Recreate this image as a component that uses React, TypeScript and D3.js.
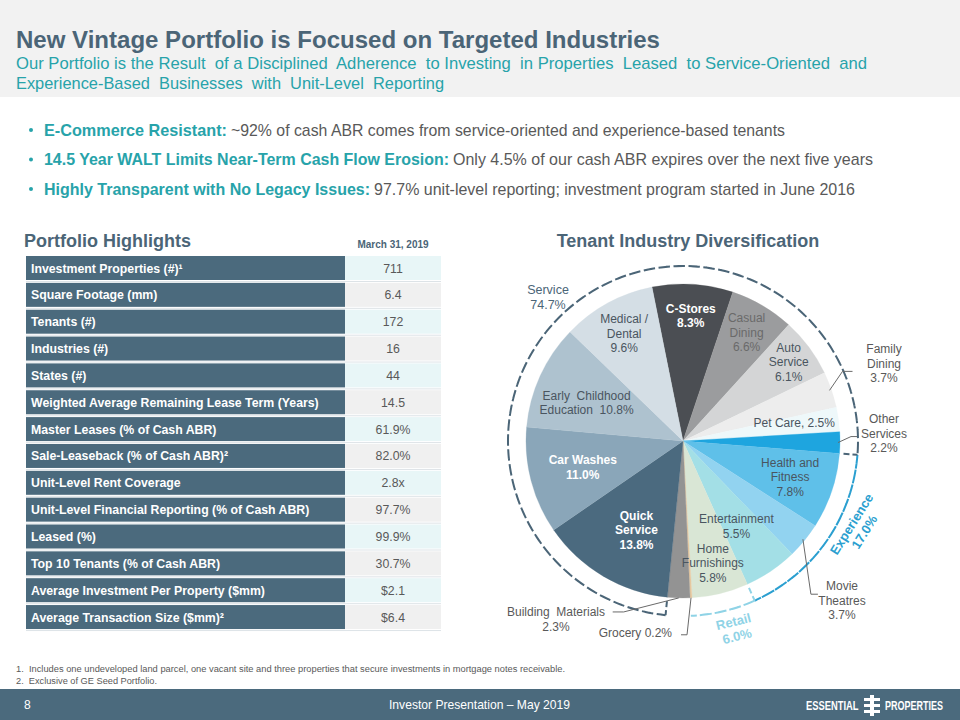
import React from "react";
import * as d3 from "d3";

// ---------- DATA ----------
const industries = [
  "C-Stores", "Casual Dining", "Auto Service", "Family Dining", "Pet Care", "Other Services",
  "Health and Fitness", "Movie Theatres", "Entertainment", "Home Furnishings", "Grocery",
  "Building Materials", "Quick Service", "Car Washes", "Early Childhood Education", "Medical / Dental",
];
const shares = [8.3, 6.6, 6.1, 3.7, 2.5, 2.2, 7.8, 3.7, 5.5, 5.8, 0.2, 2.3, 13.8, 11.0, 10.8, 9.6];
const sliceColors = [
  "#4b4e53", "#9b9c9e", "#d4d5d6", "#ededed", "#eef8fa", "#1ea5df",
  "#5fc0e9", "#92d3f0", "#a3dfe6", "#d9e6d5", "#e6c8a0",
  "#939393", "#4b6a7f", "#8aa6b9", "#aec2cf", "#d4dee5",
];

const groups = ["Service", "Experience", "Retail"];
const groupShares = ["74.7%", "17.0%", "6.0%"];

const highlightLabels = [
  "Investment Properties (#)¹", "Square Footage (mm)", "Tenants (#)", "Industries (#)", "States (#)",
  "Weighted Average Remaining Lease Term (Years)", "Master Leases (% of Cash ABR)",
  "Sale-Leaseback (% of Cash ABR)²", "Unit-Level Rent Coverage",
  "Unit-Level Financial Reporting (% of Cash ABR)", "Leased (%)", "Top 10 Tenants (% of Cash ABR)",
  "Average Investment Per Property ($mm)", "Average Transaction Size ($mm)²",
];
const highlightValues = ["711", "6.4", "172", "16", "44", "14.5", "61.9%", "82.0%", "2.8x", "97.7%", "99.9%", "30.7%", "$2.1", "$6.4"];

const bulletHeads = [
  "E-Commerce Resistant:",
  "14.5 Year WALT Limits Near-Term Cash Flow Erosion:",
  "Highly Transparent with No Legacy Issues:",
];
const bulletBodies = [
  "~92% of cash ABR comes from service-oriented and experience-based tenants",
  "Only 4.5% of our cash ABR expires over the next five years",
  "97.7% unit-level reporting; investment program started in June 2016",
];

const footnotes = [
  "1.  Includes one undeveloped land parcel, one vacant site and three properties that secure investments in mortgage notes receivable.",
  "2.  Exclusive of GE Seed Portfolio.",
];

// ---------- LAYOUT / STYLE ----------
const W = 960, H = 720;
const SANS = "'Liberation Sans', Arial, sans-serif";
const NARROW = "'Liberation Sans Narrow', 'Arial Narrow', 'Liberation Sans', Arial, sans-serif";
const SLATE = "#4b6577";
const TEAL = "#27a3aa";
const GRAY = "#595959";
const DARKLBL = "#4a5560";

type InLbl = { f: number; color: string; bold?: boolean; lines: string[]; da?: number };
const insideLabels: Record<string, InLbl> = {
  "C-Stores": { f: 0.8, color: "#ffffff", bold: true, lines: ["C-Stores", "8.3%"] },
  "Casual Dining": { f: 0.8, color: "#6a6a6a", lines: ["Casual", "Dining", "6.6%"] },
  "Auto Service": { f: 0.84, color: DARKLBL, lines: ["Auto", "Service", "6.1%"] },
  "Health and Fitness": { f: 0.72, color: DARKLBL, lines: ["Health and", "Fitness", "7.8%"] },
  "Entertainment": { f: 0.64, color: DARKLBL, lines: ["Entertainment", "5.5%"], da: 2 },
  "Home Furnishings": { f: 0.8, color: DARKLBL, lines: ["Home", "Furnishings", "5.8%"] },
  "Quick Service": { f: 0.64, color: "#ffffff", bold: true, lines: ["Quick", "Service", "13.8%"], da: -3 },
  "Car Washes": { f: 0.66, color: "#ffffff", bold: true, lines: ["Car Washes", "11.0%"] },
  "Early Childhood Education": { f: 0.66, color: DARKLBL, lines: ["Early  Childhood", "Education  10.8%"], da: -3 },
  "Medical / Dental": { f: 0.78, color: DARKLBL, lines: ["Medical /", "Dental", "9.6%"] },
};

export default function App() {
  const cx = 683, cy = 441, R = 157, RD = 175;
  const start = (-11.4 * Math.PI) / 180;
  const pie = d3.pie<number>().sort(null).value((d) => d).startAngle(start).endAngle(start + 2 * Math.PI);
  const arcs = pie(shares);
  const arcGen = d3.arc<d3.PieArcDatum<number>>().innerRadius(0).outerRadius(R);
  const polar = (a: number, r: number): [number, number] => [cx + r * Math.sin(a), cy - r * Math.cos(a)];
  const byName = (n: string) => arcs[industries.indexOf(n)];
  const mid = (n: string) => { const a = byName(n); return (a.startAngle + a.endAngle) / 2; };

  const serviceStart = byName("Quick Service").startAngle;
  const serviceEnd = byName("Other Services").endAngle + 2 * Math.PI;
  const expStart = byName("Health and Fitness").startAngle;
  const expEnd = byName("Entertainment").endAngle;
  const retStart = byName("Home Furnishings").startAngle;
  const retEnd = byName("Grocery").endAngle;
  const ringArc = (a0: number, a1: number) =>
    d3.arc()({ innerRadius: RD, outerRadius: RD, startAngle: a0, endAngle: a1 } as any) as string;
  const tick = (a: number) => {
    const [x1, y1] = polar(a, R + 4);
    const [x2, y2] = polar(a, RD);
    return `M${x1},${y1}L${x2},${y2}`;
  };

  const rowTop = 256, rowPitch = 26.85, rowH = 24;
  const edge = (n: string, r = R - 2) => polar(mid(n), r);

  const fam = edge("Family Dining");
  const oth = edge("Other Services");
  const mov = edge("Movie Theatres");
  const gro = edge("Grocery", R);
  const bm = edge("Building Materials", R);

  return (
    <svg width={W} height={H} viewBox={`0 0 ${W} ${H}`} style={{ display: "block", position: "absolute", left: 0, top: 0 }}>
      <rect x={0} y={0} width={W} height={H} fill="#ffffff" />
      {/* header */}
      <rect x={0} y={0} width={W} height={97} fill="#f2f2f2" />
      <text x={16} y={48} fontFamily={SANS} fontWeight="bold" fontSize={24} fill={SLATE} textLength={644} lengthAdjust="spacingAndGlyphs">
        New Vintage Portfolio is Focused on Targeted Industries
      </text>
      <text x={16} y={69} fontFamily={NARROW} fontSize={17} fill={TEAL} textLength={851} lengthAdjust="spacingAndGlyphs" style={{ whiteSpace: "pre" }}>
        {"Our Portfolio is the Result  of a Disciplined  Adherence  to Investing  in Properties  Leased  to Service-Oriented  and"}
      </text>
      <text x={16} y={89} fontFamily={NARROW} fontSize={17} fill={TEAL} textLength={428} lengthAdjust="spacingAndGlyphs" style={{ whiteSpace: "pre" }}>
        {"Experience-Based  Businesses  with  Unit-Level  Reporting"}
      </text>

      {/* bullets */}
      {bulletHeads.map((h, i) => {
        const y = 135.5 + i * 29.5;
        const headEnd = [227, 449, 370][i];
        const bodyEnd = [785, 873, 855][i];
        return (
          <g key={h}>
            <circle cx={31} cy={y - 5.5} r={2} fill={TEAL} />
            <text x={44} y={y} fontFamily={NARROW} fontWeight="bold" fontSize={17} fill={TEAL} textLength={headEnd - 44} lengthAdjust="spacingAndGlyphs">{h}</text>
            <text x={headEnd + 4} y={y} fontFamily={NARROW} fontSize={17} fill={GRAY} textLength={bodyEnd - headEnd - 4} lengthAdjust="spacingAndGlyphs">{bulletBodies[i]}</text>
          </g>
        );
      })}

      {/* portfolio highlights */}
      <text x={24} y={247} fontFamily={SANS} fontWeight="bold" fontSize={18} fill={SLATE}>Portfolio Highlights</text>
      <text x={393} y={248} fontFamily={SANS} fontWeight="bold" fontSize={10} fill={SLATE} textAnchor="middle">March 31, 2019</text>
      {highlightLabels.map((lbl, i) => {
        const y = rowTop + i * rowPitch;
        return (
          <g key={lbl}>
            <rect x={26} y={y} width={319} height={rowH} fill="#4b6a7d" />
            <rect x={345} y={y} width={96} height={rowH} fill={i % 2 === 0 ? "#e8f6f7" : "#f0f0f0"} />
            <line x1={26} x2={441} y1={y + rowH + 1.5} y2={y + rowH + 1.5} stroke="#dde3e7" strokeWidth={1} />
            <text x={31} y={y + rowH / 2 + 4.5} fontFamily={SANS} fontWeight="bold" fontSize={12.3} fill="#ffffff">{lbl}</text>
            <text x={393} y={y + rowH / 2 + 4.5} fontFamily={SANS} fontSize={12.3} fill={GRAY} textAnchor="middle">{highlightValues[i]}</text>
          </g>
        );
      })}

      {/* pie title */}
      <text x={688} y={247} fontFamily={SANS} fontWeight="bold" fontSize={18} fill={SLATE} textAnchor="middle">Tenant Industry Diversification</text>

      {/* pie */}
      <g transform={`translate(${cx},${cy})`}>
        {arcs.map((a, i) => (
          <path key={industries[i]} d={arcGen(a) as string} fill={sliceColors[i]} stroke={sliceColors[i]} strokeWidth={0.3} />
        ))}
        <path d={ringArc(serviceStart, serviceEnd)} fill="none" stroke={SLATE} strokeWidth={2} strokeDasharray="9 6" />
        <path d={ringArc(expStart, expEnd)} fill="none" stroke="#2b9fd0" strokeWidth={2} strokeDasharray="9 6" />
        <path d={ringArc(retStart, retEnd)} fill="none" stroke="#8fd3e6" strokeWidth={2} strokeDasharray="9 6" />
      </g>
      <path d={tick(serviceStart)} stroke={SLATE} strokeWidth={2} strokeDasharray="6 3" />
      <path d={tick(serviceEnd)} stroke={SLATE} strokeWidth={2} strokeDasharray="6 3" />
      <path d={tick(retStart)} stroke="#8fd3e6" strokeWidth={2} strokeDasharray="6 3" />

      {/* inside labels */}
      {industries.map((n) => {
        const cfg = insideLabels[n];
        if (!cfg) return null;
        const a = mid(n) + ((cfg.da || 0) * Math.PI) / 180;
        const [x, y] = polar(a, R * cfg.f);
        const lh = 14.5;
        const y0 = y - ((cfg.lines.length - 1) * lh) / 2 + 4.3;
        return (
          <text key={n} x={x} fontFamily={SANS} fontSize={12} fontWeight={cfg.bold ? "bold" : "normal"} fill={cfg.color} textAnchor="middle" style={{ whiteSpace: "pre" }}>
            {cfg.lines.map((l, k) => (
              <tspan key={k} x={x} y={y0 + k * lh}>{l}</tspan>
            ))}
          </text>
        );
      })}
      {(() => {
        const [x, y] = polar(mid("Pet Care") + 0.02, R - 4);
        return <text x={x} y={y + 4} fontFamily={SANS} fontSize={12} fill={DARKLBL} textAnchor="end">Pet Care, 2.5%</text>;
      })()}

      {/* group labels */}
      <text fontFamily={SANS} fontSize={12.5} fill={SLATE} textAnchor="middle">
        <tspan x={548} y={294}>{groups[0]}</tspan>
        <tspan x={548} y={308.5}>{groupShares[0]}</tspan>
      </text>
      <text transform="translate(858,528) rotate(-58)" fontFamily={SANS} fontSize={13} fontWeight="bold" fill="#2b9fd0" textAnchor="middle">
        <tspan x={0} y={-3}>{groups[1]}</tspan>
        <tspan x={0} y={12}>{groupShares[1]}</tspan>
      </text>
      <text transform="translate(735,628) rotate(-14)" fontFamily={SANS} fontSize={13} fontWeight="bold" fill="#8fd3e6" textAnchor="middle">
        <tspan x={0} y={-2}>{groups[2]}</tspan>
        <tspan x={0} y={13}>{groupShares[2]}</tspan>
      </text>

      {/* outside labels with leaders */}
      <g fill="none" stroke="#6a6a6a" strokeWidth={1}>
        <polyline points={`${fam[0]},${fam[1]} ${fam[0] + 13},${fam[1] - 19} ${fam[0] + 23},${fam[1] - 19}`} />
        <polyline points={`${oth[0]},${oth[1]} ${oth[0] + 13},${oth[1] - 6} ${oth[0] + 19},${oth[1] - 6}`} />
        <polyline points={`${mov[0]},${mov[1]} ${mov[0] + 8},${mov[1] + 55} ${mov[0] + 15},${mov[1] + 55}`} />
        <polyline points={`${gro[0]},${gro[1]} ${gro[0] - 4},${gro[1] + 37} ${gro[0] - 10},${gro[1] + 37}`} />
        <polyline points={`${bm[0]},${bm[1]} ${bm[0] - 55},${bm[1] + 14} ${bm[0] - 66},${bm[1] + 14}`} />
      </g>
      <g fontFamily={SANS} fontSize={12} fill={GRAY}>
        <text textAnchor="middle">
          <tspan x={884} y={353}>Family</tspan>
          <tspan x={884} y={367.5}>Dining</tspan>
          <tspan x={884} y={382}>3.7%</tspan>
        </text>
        <text textAnchor="middle">
          <tspan x={884} y={423}>Other</tspan>
          <tspan x={884} y={437.5}>Services</tspan>
          <tspan x={884} y={452}>2.2%</tspan>
        </text>
        <text textAnchor="middle">
          <tspan x={842} y={590}>Movie</tspan>
          <tspan x={842} y={604.5}>Theatres</tspan>
          <tspan x={842} y={619}>3.7%</tspan>
        </text>
        <text textAnchor="middle" style={{ whiteSpace: "pre" }}>
          <tspan x={556} y={616}>{"Building  Materials"}</tspan>
          <tspan x={556} y={630.5}>2.3%</tspan>
        </text>
        <text x={672} y={637} textAnchor="end">Grocery 0.2%</text>
      </g>

      {/* footnotes */}
      {footnotes.map((f, i) => (
        <text key={i} x={16} y={672 + i * 11.5} fontFamily={NARROW} fontSize={8.5} fill={GRAY} textLength={i === 0 ? 549 : 141} lengthAdjust="spacingAndGlyphs" style={{ whiteSpace: "pre" }}>{f}</text>
      ))}

      {/* footer */}
      <rect x={0} y={689} width={W} height={31} fill="#4b6a7d" />
      <text x={24} y={709} fontFamily={NARROW} fontSize={12} fill="#ffffff">8</text>
      <text x={389} y={709} fontFamily={NARROW} fontSize={13} fill="#ffffff" textLength={181} lengthAdjust="spacingAndGlyphs">Investor Presentation – May 2019</text>
      <g transform="translate(806,710) scale(0.75,1)">
        <text x={0} y={0} fontFamily={SANS} fontWeight="bold" fontSize={12.5} fill="#ffffff">ESSENTIAL</text>
      </g>
      <g fill="#ffffff">
        <rect x={870} y={695} width={4} height={21} />
        <rect x={864} y={698} width={16} height={3} />
        <rect x={864} y={704} width={16} height={3} />
        <rect x={864} y={710} width={16} height={3} />
      </g>
      <g transform="translate(885,710) scale(0.72,1)">
        <text x={0} y={0} fontFamily={SANS} fontWeight="bold" fontSize={12.5} fill="#ffffff">PROPERTIES</text>
      </g>
    </svg>
  );
}
